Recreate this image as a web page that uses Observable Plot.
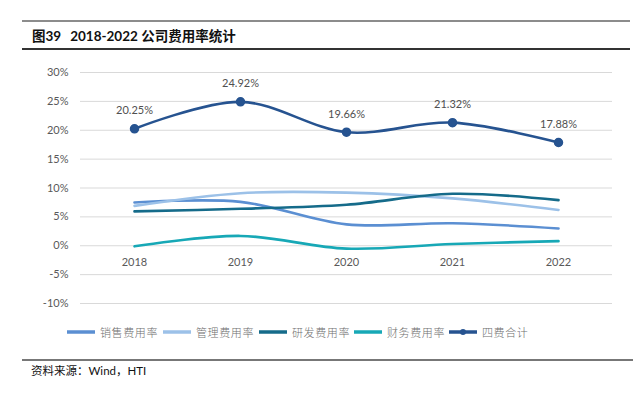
<!DOCTYPE html>
<html>
<head>
<meta charset="utf-8">
<script src="https://cdn.jsdelivr.net/npm/d3@7"></script>
<script src="https://cdn.jsdelivr.net/npm/@observablehq/plot@0.6"></script>
<style>
  body { margin: 0; background: #fff; width: 637px; height: 393px; position: relative; overflow: hidden; font-family: Lato, "Noto Sans CJK SC", sans-serif; }
  .rule { position: absolute; }
  #title { position: absolute; left: 32px; top: 25px; font-size: 13.5px; font-weight: bold; color: #111; white-space: pre; }
  #title .gap { display: inline-block; width: 9px; }
  #chart { position: absolute; left: 0; top: 55px; }
  #legend { position: absolute; left: 0; top: 324px; width: 637px; height: 16px; }
  .item { position: absolute; top: 0; height: 16px; display: flex; align-items: center; font-size: 11px; color: #6f6f6f; letter-spacing: 0.6px; font-family: "Noto Sans CJK SC", sans-serif; font-weight: 300; }
  #source { position: absolute; left: 31px; top: 362px; font-size: 11.5px; color: #111; }
</style>
</head>
<body>
<div class="rule" style="left:22px;top:20px;width:608px;height:1.5px;background:#8c8c8c"></div>
<div id="title">图39<span class="gap"></span>2018-2022 公司费用率统计</div>
<div class="rule" style="left:22px;top:48px;width:608px;height:1.5px;background:#333"></div>
<div id="chart"></div>
<div id="legend"></div>
<div class="rule" style="left:22px;top:359px;width:611px;height:2px;background:#777"></div>
<div id="source">资料来源：Wind，HTI</div>
<script>
const years = ["2018", "2019", "2020", "2021", "2022"];
const seriesNames = ["销售费用率", "管理费用率", "研发费用率", "财务费用率", "四费合计"];
const sales = [7.5, 7.6, 3.7, 3.9, 3.0];
const admin = [6.9, 9.1, 9.2, 8.2, 6.2];
const rnd = [5.95, 6.4, 7.1, 9.0, 7.9];
const fin = [-0.1, 1.7, -0.5, 0.3, 0.8];
const total = [20.25, 24.92, 19.66, 21.32, 17.88];
const yTicks = [-10, -5, 0, 5, 10, 15, 20, 25, 30];
const colors = ["#5b8fd2", "#9cc1e8", "#156b8a", "#17a8b6", "#265390"];

const allSeries = [sales, admin, rnd, fin, total];
const rows = [];
allSeries.forEach((vals, si) => vals.forEach((v, i) => rows.push({series: seriesNames[si], year: years[i], value: v})));
const totalRows = rows.filter(d => d.series === "四费合计");

const chart = Plot.plot({
  width: 637,
  height: 265,
  marginLeft: 80,
  marginRight: 25,
  marginTop: 17,
  marginBottom: 17,
  x: {type: "point", domain: years, padding: 0.5, axis: null},
  y: {domain: [-10, 30], axis: null},
  color: {domain: seriesNames, range: colors},
  style: {fontFamily: "Lato, sans-serif"},
  marks: [
    Plot.ruleY(yTicks, {stroke: "#d9d9d9", strokeWidth: 1}),
    Plot.axisY({ticks: yTicks, tickSize: 0, tickPadding: 12, tickFormat: d => d + "%", fontSize: 11, fill: "#595959", label: null}),
    Plot.text(years, {x: d => d, y: () => 0, dy: 17, fontSize: 11, fill: "#595959"}),
    Plot.line(rows, {x: "year", y: "value", z: "series", stroke: "series", strokeWidth: 2.6, curve: "catmull-rom"}),
    Plot.dot(totalRows, {x: "year", y: "value", r: 4, fill: colors[4], stroke: colors[4]}),
    Plot.text(totalRows, {x: "year", y: "value", text: d => d.value.toFixed(2) + "%", dy: -18, fontSize: 11, fill: "#505050"})
  ]
});
document.getElementById("chart").appendChild(chart);

const legend = document.getElementById("legend");
const lefts = [67, 163, 259, 354, 449];
seriesNames.forEach((name, i) => {
  const item = document.createElement("div");
  item.className = "item";
  item.style.left = lefts[i] + "px";
  const dot = i === 4 ? `<circle cx="14" cy="8" r="3" fill="${colors[i]}"/>` : "";
  item.innerHTML = `<svg width="30" height="16"><line x1="0" x2="28" y1="8" y2="8" stroke="${colors[i]}" stroke-width="3.5"/>${dot}</svg><span style="margin-left:3px">${name}</span>`;
  legend.appendChild(item);
});
</script>
</body>
</html>
